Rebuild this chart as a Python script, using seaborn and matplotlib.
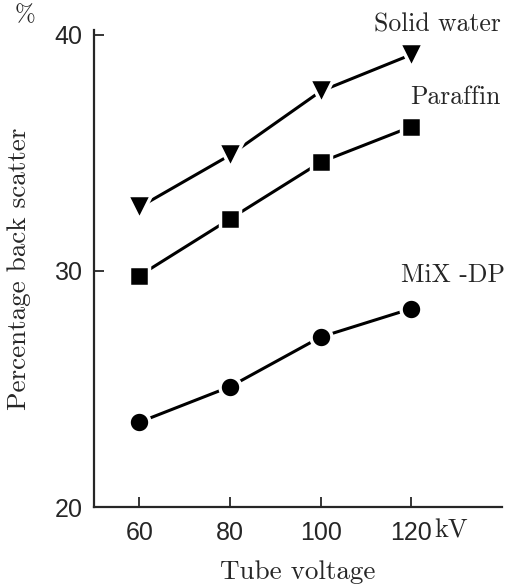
import matplotlib
matplotlib.use('Agg')
import matplotlib.pyplot as plt
import seaborn as sns
import pandas as pd

# Data
voltage = [60, 80, 100, 120]
solid_water = [32.7, 34.9, 37.6, 39.15]
paraffin = [29.8, 32.2, 34.6, 36.1]
mix_dp = [23.6, 25.1, 27.2, 28.4]

sns.set_style('ticks')
plt.rcParams['font.family'] = ['cmr10', 'DejaVu Serif']
plt.rcParams['axes.formatter.use_mathtext'] = True

fig = plt.figure(figsize=(5.12, 5.85), dpi=100)
ax = fig.add_axes([0.184, 0.133, 0.796, 0.816])

series = [('Solid water', solid_water, 'v', 17),
          ('Paraffin', paraffin, 's', 15),
          ('MiX -DP', mix_dp, 'o', 15)]
for name, vals, mk, ms in series:
    df = pd.DataFrame({'kV': voltage, 'pct': vals})
    sns.lineplot(data=df, x='kV', y='pct', ax=ax, color='black', lw=2.2,
                 marker=mk, markersize=ms, markeredgecolor='white',
                 markeredgewidth=2.5, markerfacecolor='black')

ax.set_xlim(50, 140)
ax.set_ylim(20, 40.2)
ax.set_xticks(voltage)
ax.set_xticklabels(['60', '80', '100', '120'])
ax.set_yticks([20, 30, 40])
ax.tick_params(direction='in', length=7, width=1.3, pad=8)
ax.tick_params(axis='x', pad=10)
for lbl in ax.get_yticklabels() + ax.get_xticklabels():
    lbl.set_family(['Liberation Sans', 'DejaVu Sans'])
    lbl.set_fontsize(18)
ax.text(125.1, 18.7, 'kV', fontsize=19, ha='left', va='baseline', clip_on=False)
for s in ['top', 'right']:
    ax.spines[s].set_visible(False)
for s in ['left', 'bottom']:
    ax.spines[s].set_linewidth(1.6)

ax.set_xlabel('Tube voltage', fontsize=19.5, labelpad=11)
ax.set_ylabel('Percentage back scatter', fontsize=19.5)
ax.yaxis.set_label_coords(-0.155, 0.5)

ax.text(139.8, 40.42, 'Solid water', fontsize=18.5, ha='right', va='center')
ax.text(139.8, 37.37, 'Paraffin', fontsize=18.5, ha='right', va='center')
ax.text(140.8, 29.83, 'MiX -DP', fontsize=18.5, ha='right', va='center')
fig.text(0.049, 0.974, '%', fontsize=18, ha='center', va='center')

fig.savefig('out.png', dpi=100)
